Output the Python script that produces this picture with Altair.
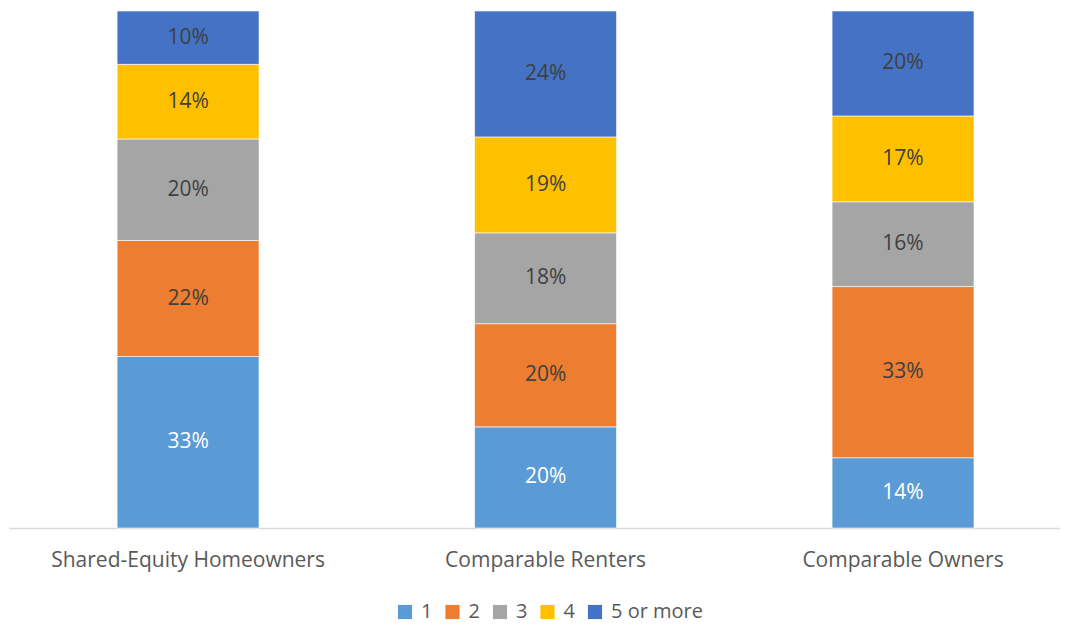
import altair as alt
import pandas as pd

categories = ["Shared-Equity Homeowners", "Comparable Renters", "Comparable Owners"]
series = ["1", "2", "3", "4", "5 or more"]
colors = ["#5B9BD5", "#ED7D31", "#A5A5A5", "#FFC000", "#4472C4"]

# percent values per category, in series order (1, 2, 3, 4, 5 or more)
shared_equity = [33.1, 22.4, 19.6, 14.4, 10.3]
renters = [19.6, 20.0, 17.6, 18.6, 24.4]
owners = [13.6, 33.1, 16.4, 16.6, 20.3]

rows = []
for cat, vals in zip(categories, [shared_equity, renters, owners]):
    for i, (s, v) in enumerate(zip(series, vals)):
        rows.append({"cat": cat, "series": s, "order": i, "value": v})
df = pd.DataFrame(rows)

FONT = "Open Sans"

base = alt.Chart(df).transform_stack(
    stack="value", as_=["y0", "y1"], groupby=["cat"],
    offset="normalize", sort=[alt.SortField("order", order="ascending")]
).transform_calculate(
    mid="(datum.y0 + datum.y1) / 2",
    label="format(datum.value, '.0f') + '%'"
)

xenc = alt.X("cat:N", sort=categories, title=None,
             scale=alt.Scale(paddingInner=0.603, paddingOuter=0.2715, align=0.557),
             axis=alt.Axis(labelAngle=0, ticks=False, tickSize=0, labelPadding=21,
                           labelFontSize=21, labelFont=FONT, labelColor="#595959",
                           labelLimit=0,
                           domainColor="#D9D9D9", domainWidth=1.5))

bars = base.mark_bar(stroke="white", strokeWidth=0.6).encode(
    x=xenc,
    y=alt.Y("y0:Q", scale=alt.Scale(domain=[0, 1]), axis=None),
    y2="y1:Q",
    color=alt.Color("series:N", sort=series,
                    scale=alt.Scale(domain=series, range=colors),
                    legend=alt.Legend(title=None, orient="none", direction="horizontal",
                                      legendX=386, legendY=591,
                                      symbolType="square", symbolSize=200,
                                      symbolStrokeWidth=0, labelFont=FONT,
                                      labelFontSize=20, labelColor="#595959",
                                      columnPadding=9.5, labelOffset=6)),
    order=alt.Order("order:Q")
)

texts = base.mark_text(font=FONT, fontSize=21).encode(
    x=alt.X("cat:N", sort=categories),
    y=alt.Y("mid:Q", scale=alt.Scale(domain=[0, 1])),
    text="label:N",
    color=alt.condition(alt.datum.series == "1", alt.value("white"), alt.value("#404040"))
)

chart = alt.layer(bars, texts).properties(
    width=1051, height=517,
    padding={"left": 1, "top": 2, "right": 0, "bottom": 6}
).configure_view(stroke=None)

chart.save("out.html", embed_options={"renderer": "svg", "actions": False})
